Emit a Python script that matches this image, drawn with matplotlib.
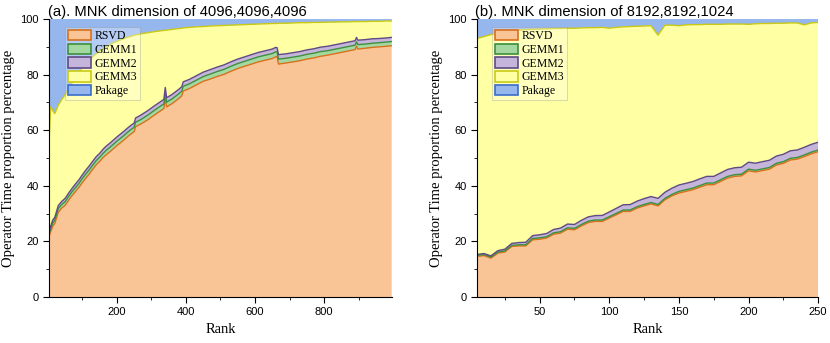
import numpy as np
import matplotlib
matplotlib.use("Agg")
import matplotlib.pyplot as plt
from matplotlib.patches import Patch

# ---- data (percent of operator time) ----
names = ["RSVD", "GEMM1", "GEMM2", "GEMM3", "Pakage"]

rank_a = [4, 8, 14, 20, 30, 40, 50, 60, 70, 80,
          90, 100, 110, 120, 130, 140, 150, 160, 170, 180,
          190, 200, 210, 220, 230, 240, 250, 254, 270, 290,
          310, 330, 336, 340, 344, 360, 380, 388, 392, 410,
          430, 450, 470, 490, 510, 530, 550, 570, 590, 610,
          630, 650, 660, 664, 668, 690, 710, 730, 750, 770,
          790, 810, 830, 850, 870, 890, 894, 898, 920, 940,
          960, 980, 996]
rsvd_a = [22.0, 23.5, 25.5, 26.5, 30.5, 32.0, 33.0, 34.8, 36.5, 38.0,
          39.5, 41.2, 42.8, 44.3, 46.0, 47.6, 48.8, 50.2, 51.3, 52.3,
          53.4, 54.5, 55.5, 56.5, 57.6, 58.6, 59.5, 61.3, 62.3, 63.8,
          65.6, 67.3, 67.8, 71.5, 68.4, 69.6, 71.5, 72.4, 74.1, 75.0,
          76.3, 77.6, 78.4, 79.3, 80.1, 81.2, 82.2, 83.0, 83.8, 84.6,
          85.2, 85.8, 86.4, 86.6, 83.8, 84.2, 84.6, 85.0, 85.6, 86.0,
          86.6, 87.0, 87.5, 88.0, 88.5, 89.0, 90.2, 89.2, 89.5, 89.8,
          90.0, 90.2, 90.4]
gemm1_a = [1.0, 1.1, 1.2, 1.2, 1.3, 1.3, 1.3, 1.4, 1.4, 1.4,
           1.4, 1.5, 1.5, 1.5, 1.5, 1.5, 1.5, 1.5, 1.6, 1.6,
           1.6, 1.6, 1.6, 1.6, 1.6, 1.6, 1.6, 1.6, 1.6, 1.7,
           1.7, 1.7, 1.7, 1.7, 1.7, 1.7, 1.7, 1.7, 1.7, 1.7,
           1.7, 1.7, 1.8, 1.8, 1.8, 1.8, 1.8, 1.8, 1.8, 1.8,
           1.8, 1.8, 1.8, 1.6, 1.8, 1.7, 1.7, 1.7, 1.7, 1.7,
           1.7, 1.6, 1.6, 1.6, 1.6, 1.6, 1.6, 1.6, 1.5, 1.5,
           1.5, 1.5, 1.5]
gemm2_a = [0.8, 0.9, 1.0, 1.0, 1.1, 1.1, 1.2, 1.2, 1.2, 1.3,
           1.3, 1.3, 1.4, 1.4, 1.4, 1.4, 1.4, 1.5, 1.5, 1.5,
           1.5, 1.5, 1.5, 1.5, 1.5, 1.5, 1.5, 1.5, 1.6, 1.6,
           1.6, 1.6, 1.6, 2.2, 1.6, 1.6, 1.6, 1.6, 1.6, 1.6,
           1.6, 1.6, 1.6, 1.6, 1.6, 1.6, 1.6, 1.6, 1.6, 1.6,
           1.6, 1.6, 1.6, 1.5, 1.6, 1.6, 1.6, 1.6, 1.6, 1.6,
           1.6, 1.6, 1.6, 1.6, 1.6, 1.6, 1.6, 1.6, 1.6, 1.6,
           1.5, 1.5, 1.5]
pakage_a = [42.5, 31.5, 33.0, 34.0, 31.0, 29.0, 27.2, 25.0, 23.0, 21.0,
            19.2, 17.5, 16.0, 14.7, 13.5, 12.5, 11.5, 10.7, 9.9, 9.2,
            8.5, 8.0, 7.5, 7.0, 6.6, 6.2, 5.8, 5.7, 5.3, 4.9,
            4.5, 4.2, 4.1, 4.0, 4.0, 3.7, 3.4, 3.3, 3.2, 3.0,
            2.8, 2.7, 2.5, 2.4, 2.3, 2.2, 2.1, 2.0, 1.9, 1.8,
            1.7, 1.6, 1.6, 1.6, 1.5, 1.5, 1.4, 1.3, 1.3, 1.2,
            1.2, 1.1, 1.1, 1.0, 1.0, 0.9, 0.9, 0.9, 0.9, 0.8,
            0.8, 0.7, 0.7]

rank_b = list(range(5, 251, 5))
rsvd_b = [14.6, 14.9, 14.0, 15.8, 16.2, 18.2, 18.4, 18.4, 20.6, 20.8,
          21.2, 22.6, 23.0, 24.4, 24.2, 25.6, 26.8, 27.2, 27.2, 28.4,
          29.6, 30.8, 30.8, 32.0, 32.8, 33.5, 32.8, 35.0, 36.4, 37.4,
          38.0, 38.6, 39.5, 40.4, 40.4, 41.6, 42.8, 43.4, 43.6, 45.4,
          45.0, 45.5, 46.0, 47.5, 48.1, 49.3, 49.6, 50.5, 51.5, 52.3]
gemm1_b = [0.4, 0.4, 0.4, 0.4, 0.4, 0.4, 0.4, 0.4, 0.5, 0.5,
           0.5, 0.5, 0.5, 0.5, 0.5, 0.5, 0.5, 0.5, 0.5, 0.5,
           0.5, 0.5, 0.5, 0.5, 0.5, 0.5, 0.5, 0.5, 0.5, 0.6,
           0.6, 0.6, 0.6, 0.6, 0.6, 0.6, 0.6, 0.6, 0.6, 0.6,
           0.6, 0.6, 0.6, 0.6, 0.6, 0.6, 0.6, 0.6, 0.6, 0.6]
gemm2_b = [0.3, 0.35, 0.4, 0.5, 0.6, 0.7, 0.8, 0.9, 1.0, 1.1,
           1.15, 1.2, 1.3, 1.35, 1.4, 1.5, 1.55, 1.6, 1.65, 1.7,
           1.8, 1.9, 1.95, 2.0, 2.1, 2.15, 2.2, 2.2, 2.25, 2.3,
           2.3, 2.35, 2.4, 2.4, 2.4, 2.45, 2.5, 2.5, 2.5, 2.5,
           2.55, 2.6, 2.6, 2.6, 2.65, 2.7, 2.7, 2.75, 2.8, 2.8]
pakage_b = [7.0, 6.3, 5.6, 5.0, 4.5, 4.2, 4.0, 3.8, 3.7, 3.6,
            3.5, 3.4, 3.4, 3.3, 3.3, 3.2, 3.1, 3.1, 3.0, 3.3,
            3.0, 2.8, 2.7, 2.6, 2.5, 2.4, 5.8, 2.2, 2.2, 2.4,
            2.1, 2.0, 2.0, 1.9, 1.9, 1.9, 1.8, 1.8, 1.8, 1.9,
            1.7, 1.6, 1.6, 1.5, 1.5, 1.4, 1.4, 2.1, 1.4, 1.2]

fills = ["#F9C597", "#A3D9A0", "#C6B5DB", "#FFFFA3", "#95B7EE"]
edges = ["#D8701C", "#3E8E3E", "#5F4B85", "#C9C915", "#3A6CC9"]

plt.rcParams["font.family"] = "Liberation Sans"


def draw(ax, rank, rsvd, g1, g2, pak, title, xlim, major, minor):
    rsvd, g1, g2, pak = map(np.array, (rsvd, g1, g2, pak))
    g3 = 100 - rsvd - g1 - g2 - pak  # remainder of the total
    layers = [rsvd, g1, g2, g3, pak]
    ax.stackplot(rank, layers, colors=fills, linewidth=0)
    tops = np.cumsum(layers, axis=0)
    for k in range(4):
        ax.plot(rank, tops[k], color=edges[k], lw=1.0)
    ax.set_xlim(*xlim)
    ax.set_ylim(0, 100)
    ax.set_xticks(major)
    ax.set_xticks(minor, minor=True)
    ax.set_yticks(range(0, 101, 20))
    ax.set_yticks(range(10, 100, 20), minor=True)
    ax.tick_params(which="both", direction="out", labelsize=8)
    ax.tick_params(which="major", length=4)
    ax.tick_params(which="minor", length=2.5)
    for s in ("top", "right"):
        ax.spines[s].set_visible(False)
    ax.set_xlabel("Rank", family="Liberation Serif", fontsize=10.5)
    ax.set_ylabel("Operator Time proportion percentage", family="Liberation Serif",
                  fontsize=10.5, labelpad=4)
    ax.set_title(title, loc="left", fontsize=10.6, pad=2, x=-0.005)
    handles = [Patch(facecolor=fills[k], edgecolor=edges[k], lw=1.2) for k in range(5)]
    leg = ax.legend(handles, names, loc="upper left", bbox_to_anchor=(0.038, 0.98),
                    prop={"family": "Liberation Serif", "size": 8.5},
                    handlelength=1.95, handleheight=1.0, labelspacing=0.12,
                    handletextpad=0.3, borderpad=0.25, borderaxespad=0.2,
                    fancybox=False, framealpha=0.3, edgecolor="#8a8a8a")
    leg.get_frame().set_linewidth(0.8)


fig = plt.figure(figsize=(8.3, 3.43), dpi=100)
ax1 = fig.add_axes([0.0594, 0.134, 0.4125, 0.8105])
ax2 = fig.add_axes([0.5747, 0.134, 0.4110, 0.8105])

draw(ax1, rank_a, rsvd_a, gemm1_a, gemm2_a, pakage_a,
     "(a). MNK dimension of 4096,4096,4096", (4, 996),
     [200, 400, 600, 800], [100, 300, 500, 700, 900])
draw(ax2, rank_b, rsvd_b, gemm1_b, gemm2_b, pakage_b,
     "(b). MNK dimension of 8192,8192,1024", (5, 250),
     [50, 100, 150, 200, 250], [25, 75, 125, 175, 225])

fig.savefig("out.png", dpi=100)
